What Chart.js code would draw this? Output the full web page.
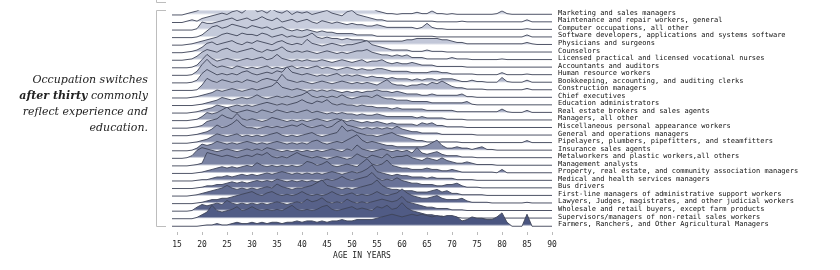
<!DOCTYPE html>
<html lang="en">

<head>
  <meta charset="UTF-8" />
  <title>Occupation switches by age</title>
  <script src="https://cdn.jsdelivr.net/npm/chart.js"></script>
  <style>
    body { margin: 0; background: #fff; }
    #wrap { position: relative; width: 840px; height: 270px; }
    #note {
      position: absolute; left: 0; top: 72px; width: 148px;
      text-align: right; font: italic 11px/16px "DejaVu Serif", serif; color: #222;
    }
  </style>
</head>

<body>
  <div id="wrap">
    <canvas id="ridges" width="840" height="270"></canvas>
    <div id="note">Occupation switches <b>after thirty</b> commonly reflect experience and education.</div>
  </div>

  <script>
    // occupations, top to bottom
    const occupations = [
      "Marketing and sales managers",
      "Maintenance and repair workers, general",
      "Computer occupations, all other",
      "Software developers, applications and systems software",
      "Physicians and surgeons",
      "Counselors",
      "Licensed practical and licensed vocational nurses",
      "Accountants and auditors",
      "Human resource workers",
      "Bookkeeping, accounting, and auditing clerks",
      "Construction managers",
      "Chief executives",
      "Education administrators",
      "Real estate brokers and sales agents",
      "Managers, all other",
      "Miscellaneous personal appearance workers",
      "General and operations managers",
      "Pipelayers, plumbers, pipefitters, and steamfitters",
      "Insurance sales agents",
      "Metalworkers and plastic workers,all others",
      "Management analysts",
      "Property, real estate, and community association managers",
      "Medical and health services managers",
      "Bus drivers",
      "First-line managers of administrative support workers",
      "Lawyers, Judges, magistrates, and other judicial workers",
      "Wholesale and retail buyers, except farm products",
      "Supervisors/managers of non-retail sales workers",
      "Farmers, Ranchers, and Other Agricultural Managers"
    ];

    // ages 14..90
    const ages = [14, 15, 16, 17, 18, 19, 20, 21, 22, 23, 24, 25, 26, 27, 28, 29, 30, 31, 32, 33, 34, 35, 36, 37, 38, 39,
      40, 41, 42, 43, 44, 45, 46, 47, 48, 49, 50, 51, 52, 53, 54, 55, 56, 57, 58, 59, 60, 61, 62, 63, 64, 65, 66, 67, 68, 69,
      70, 71, 72, 73, 74, 75, 76, 77, 78, 79, 80, 81, 82, 83, 84, 85, 86, 87, 88, 89, 90];
    const tickAges = [15, 20, 25, 30, 35, 40, 45, 50, 55, 60, 65, 70, 75, 80, 85, 90];

    // switch density per age (rows ordered as above)
    const marketing = [0,0,0,1,2,3, 5,8,9,11,12,14,12,13,15,13, 16,14,12,17,14,13,15,12,11,13, 12,14,11,12,10,11,9,12,10,9, 11,13,9,7,5,3,2,1,1,0.5, 1,1,1,2,1,1,3,1,1,0.5, 1,0.5,0.5,0.5,0.5,0.5,0.5,0.5,0.5,1, 3,1,0.5,0.5,0.5,0.5,0.5,0.5,0.5,0.5,0.5];
    const maintenance = [0,0,0,1,2,1, 3,4,5,6,7,6,8,9,7,10, 13,8,9,7,10,8,7,9,6,8, 7,8,6,7,8,9,7,6,5,8, 9,6,5,4,3,2,2,1,1,1, 1,1,1,1,1,1,1,0.5,0.5,0.5, 0.5,0.5,1,0.5,0.5,0.5,0.5,0.5,0.5,0.5, 0.5,0.5,0.5,0.5,0.5,2,0.5,0.5,0.5,0.5,0.5];
    const computerOther = [0,0,0,0,0,1, 6,5,5,6,7,8,9,7,8,9, 7,8,10,8,7,9,6,7,8,6, 7,8,6,5,7,6,5,6,5,4, 5,4,4,3,3,4,3,2,2,2, 2,2,2,1,2,5,2,1,1,0.5, 0.5,0.5,0.5,0.5,0.5,0.5,0.5,0.5,0.5,0.5, 0.5,0.5,0.5,0.5,0.5,1,0.5,0.5,0.5,0.5,0.5];
    const softwareDev = [0,0,0,0,0,0.5, 2,5,8,9,7,8,10,9,8,7, 9,8,7,8,6,7,8,6,5,6, 5,6,5,4,5,4,4,3,3,3, 3,2,2,2,2,1,1,1,1,1, 1,1,1,1,1,1,1,0.5,0.5,0.5, 0.5,0.5,0.5,0.5,0.5,0.5,0.5,0.5,0.5,0.5, 0.5,0.5,0.5,0.5,0.5,2,0.5,0.5,0.5,0.5,0.5];
    const physicians = [0,0,0,0.5,1,2, 3,4,5,6,8,9,8,7,9,8, 8,7,9,8,6,7,8,6,7,6, 6,7,9,6,5,6,5,5,4,5, 4,4,4,3,3,3,3,3,3,3, 3,4,4,5,5,5,5,5,4,4, 3,2,2,1,1,1,1,1,1,1, 1,1,1,1,1,2,1,0.5,0.5,0.5,0.5];
    const counselors = [0,0,0,0.5,1,2, 4,7,8,6,7,8,9,7,6,8, 7,9,8,7,6,8,9,7,6,7, 6,10,7,6,5,6,7,6,5,6, 6,7,8,9,6,5,4,3,2,2, 2,2,1,1,1,2,1,1,1,0.5, 0.5,0.5,0.5,0.5,0.5,0.5,0.5,0.5,0.5,0.5, 0.5,0.5,0.5,0.5,0.5,0.5,0.5,0.5,0.5,0.5,0.5];
    const nurses = [0,0,0,0.5,1,3, 6,8,7,6,8,9,7,6,7,8, 9,7,6,8,7,8,10,7,6,7, 6,7,6,5,6,7,6,5,6,5, 6,7,7,8,6,5,4,4,3,4, 3,4,2,2,2,1,1,1,1,1, 2,1,1,1,0.5,0.5,0.5,0.5,0.5,0.5, 1,0.5,0.5,0.5,0.5,0.5,0.5,0.5,0.5,0.5,0.5];
    const accountants = [0,0,0,0,0.5,2, 6,10,7,5,6,7,6,5,6,7, 6,7,8,6,7,10,7,6,5,6, 5,6,5,5,6,5,4,5,6,5, 4,5,6,4,5,5,6,4,3,4, 3,3,4,3,2,2,2,1,1,1, 1,1,1,0.5,0.5,0.5,0.5,0.5,0.5,0.5, 0.5,0.5,0.5,0.5,0.5,0.5,0.5,0.5,0.5,0.5,0.5];
    const hrWorkers = [0,0,0,0,0.5,3, 8,12,8,6,7,6,5,7,6,5, 6,5,6,7,5,6,5,6,7,5, 6,5,6,7,5,6,5,4,5,6, 5,4,5,4,4,5,5,4,3,3, 3,3,2,2,2,2,3,3,2,2, 1,1,1,1,1,0.5,0.5,0.5,0.5,0.5, 2,0.5,0.5,0.5,0.5,1,0.5,0.5,0.5,0.5,0.5];
    const bookkeeping = [0,0,0,0,0.5,2, 7,10,8,6,7,6,7,6,8,9, 7,6,7,8,7,9,8,12,8,7, 6,7,6,5,6,5,6,7,5,6, 5,6,5,4,5,4,4,3,4,3, 3,3,2,3,2,3,3,2,3,3, 3,2,1,1,2,1,1,0.5,0.5,0.5, 4,1,0.5,0.5,0.5,2,0.5,0.5,0.5,0.5,0.5];
    const construction = [0,0,0,0,0,0.5, 4,9,7,6,8,7,6,7,6,8, 7,6,8,9,8,7,12,8,7,6, 7,6,5,6,7,6,5,6,7,6, 5,6,5,6,5,4,6,8,5,4, 4,3,4,4,5,4,6,5,7,5, 3,2,2,1,1,1,1,0.5,0.5,0.5, 0.5,0.5,0.5,0.5,0.5,1.5,0.5,0.5,0.5,0.5,0.5];
    const chiefExec = [0,0,0,0,0.5,1, 2,3,4,6,5,6,7,6,5,6, 7,6,7,8,9,12,8,7,6,7, 6,5,6,5,6,5,6,5,4,5, 4,5,4,5,5,6,5,5,4,5, 4,3,3,3,2,2,3,2,2,2, 2,2,3,1,1,0.5,0.5,0.5,0.5,0.5, 0.5,0.5,0.5,0.5,0.5,0.5,0.5,0.5,0.5,0.5,0.5];
    const eduAdmin = [0,0,0,0,0,0.5, 1,2,3,4,6,5,4,5,6,5, 6,8,6,5,6,7,6,7,6,7, 8,10,7,6,7,6,7,6,8,6, 5,6,7,7,6,8,6,5,5,4, 4,4,3,3,3,3,2,2,2,2, 2,2,2,3,1,0.5,0.5,0.5,0.5,0.5, 0.5,0.5,0.5,0.5,0.5,0.5,0.5,0.5,0.5,0.5,0.5];
    const realEstate = [0,0,0,0,0.5,1, 2,3,4,6,5,4,5,6,5,6, 5,6,7,8,7,6,7,6,7,8, 10,8,7,9,8,10,7,6,7,6, 6,5,6,5,5,4,4,4,3,4, 3,3,3,3,3,2,2,2,2,2, 2,1,1,1,1,1,1,1,1,1, 3,1,0.5,0.5,0.5,2,0.5,0.5,0.5,0.5,0.5];
    const managersOther = [0,0,0,0,0.5,1, 3,6,5,6,8,10,7,6,7,8, 7,6,8,7,6,8,7,6,7,6, 7,8,6,7,6,5,6,5,6,5, 5,4,5,4,4,5,4,3,3,3, 3,3,3,2,3,2,2,2,2,1, 1,1,1,0.5,0.5,0.5,0.5,0.5,0.5,0.5, 0.5,0.5,0.5,0.5,0.5,0.5,0.5,0.5,0.5,0.5,0.5];
    const personalAppearance = [0,0,0,0,0.5,1, 2,5,6,7,10,8,7,11,7,6, 7,6,5,6,8,7,6,5,6,5, 6,5,6,7,6,5,6,7,6,5, 6,5,4,5,4,5,4,3,4,3, 3,3,3,2,4,3,4,2,2,1, 1,1,1,0.5,0.5,0.5,0.5,0.5,0.5,0.5, 0.5,0.5,0.5,0.5,0.5,0.5,0.5,0.5,0.5,0.5,0.5];
    const generalOps = [0,0,0,0,0.5,1, 2,3,5,8,6,7,9,12,8,6, 6,5,6,7,6,7,6,7,8,7, 9,7,6,7,8,6,7,10,12,8, 7,6,5,6,5,6,5,6,5,7, 5,4,3,3,2,2,2,2,1,1, 1,1,1,1,1,0.5,0.5,0.5,0.5,0.5, 0.5,0.5,0.5,0.5,0.5,0.5,0.5,0.5,0.5,0.5,0.5];
    const pipelayers = [0,0,0,0,0.5,1, 2,3,5,7,6,5,6,7,5,6, 5,6,5,6,7,8,6,5,6,5, 6,7,8,6,5,6,7,8,13,9, 10,8,7,6,6,5,6,7,8,6, 5,4,3,2,2,1,1,1,1,1, 1,1,0.5,0.5,0.5,0.5,0.5,0.5,0.5,0.5, 0.5,0.5,0.5,0.5,0.5,2,0.5,0.5,0.5,0.5,0.5];
    const insurance = [0,0,0,0,0.5,2, 5,4,5,7,6,5,6,5,6,7, 6,5,6,5,6,7,6,5,6,5, 6,5,7,8,6,5,6,7,6,8, 10,12,8,6,7,6,5,4,4,3, 3,3,3,3,3,4,6,8,4,2, 2,3,2,2,1,2,3,1,1,0.5, 0.5,0.5,0.5,0.5,0.5,0.5,0.5,0.5,0.5,0.5,0.5];
    const metalworkers = [0,0,0,0.5,2,6, 8,7,6,5,6,7,6,5,6,7, 6,7,6,8,7,6,5,6,5,6, 5,6,5,6,5,6,7,6,5,7, 6,10,7,6,5,6,7,6,5,6, 5,6,4,8,4,3,4,5,3,2, 2,2,1,1,1,0.5,0.5,0.5,0.5,0.5, 0.5,0.5,0.5,0.5,0.5,0.5,0.5,0.5,0.5,0.5,0.5];
    const mgmtAnalysts = [0,0,0,0,0.5,1, 2,10,9,8,7,8,7,6,7,8, 7,9,8,10,7,6,7,6,8,10, 8,7,6,7,6,5,6,7,6,5, 6,9,7,6,8,7,6,9,6,7, 7,8,6,5,4,6,5,4,6,4, 3,2,2,3,2,1,1,1,1,0.5, 0.5,0.5,0.5,0.5,0.5,0.5,0.5,0.5,0.5,0.5,0.5];
    const propertyMgrs = [0,0,0,0,0,0.5, 1,2,3,4,5,4,5,4,5,6, 5,8,6,5,6,5,6,5,6,5, 6,9,8,6,7,9,6,5,6,7, 6,5,8,11,7,6,7,10,6,5, 4,4,3,3,3,4,3,3,2,2, 3,2,1,1,1,1,1,1,1,0.5, 3,0.5,0.5,0.5,0.5,0.5,0.5,0.5,0.5,0.5,0.5];
    const medicalMgrs = [0,0,0,0,0,0.5, 1,1,2,3,3,4,3,4,5,4, 5,4,5,6,5,6,7,6,5,6, 5,6,5,6,5,6,7,6,5,6, 7,6,7,9,12,7,6,5,4,5, 4,4,3,3,3,2,3,2,2,2, 2,1,1,1,1,0.5,0.5,0.5,0.5,0.5, 0.5,0.5,0.5,0.5,0.5,0.5,0.5,0.5,0.5,0.5,0.5];
    const busDrivers = [0,0,0,0,0,0.5, 1,2,2,3,3,4,5,4,5,4, 5,6,5,6,5,7,6,5,6,5, 6,5,6,5,6,7,6,7,9,7, 6,7,8,9,12,8,6,7,6,8, 6,5,4,4,3,3,3,2,2,3, 3,4,2,1,1,1,0.5,0.5,0.5,0.5, 0.5,0.5,0.5,0.5,0.5,0.5,0.5,0.5,0.5,0.5,0.5];
    const firstLineAdmin = [0,0,0,0,0.5,1, 2,3,4,5,6,8,6,5,6,5, 6,5,6,7,6,9,7,6,5,6, 6,7,8,10,12,8,7,6,5,6, 5,6,7,8,9,12,8,6,5,5, 4,4,4,3,3,3,4,5,3,4, 2,2,1,1,1,1,1,0.5,0.5,0.5, 0.5,0.5,0.5,0.5,0.5,0.5,0.5,0.5,0.5,0.5,0.5];
    const lawyers = [0,0,0,0,0,0.5, 1,2,3,3,4,4,5,6,7,8, 9,7,6,8,9,7,6,7,6,7, 9,7,6,7,6,7,9,7,6,7, 8,6,7,6,7,9,7,6,7,8, 11,8,6,5,4,4,5,6,4,3, 3,3,4,2,1,1,1,1,0.5,0.5, 0.5,0.5,0.5,0.5,0.5,1,0.5,0.5,0.5,0.5,0.5];
    const buyers = [0,0,0,0,0.5,3, 5,4,5,6,5,8,6,5,6,5, 6,5,6,5,6,7,6,5,6,7, 6,9,7,8,10,7,6,7,6,9, 7,6,7,6,7,8,9,8,7,8, 11,7,6,5,4,3,3,2,2,2, 1,1,1,0.5,0.5,0.5,0.5,0.5,0.5,0.5, 0.5,0.5,0.5,0.5,0.5,0.5,0.5,0.5,0.5,0.5,0.5];
    const salesSupervisors = [0,0,0,0,0,1, 3,5,10,6,5,6,7,9,6,7, 9,7,6,7,6,7,6,8,10,7, 6,7,6,7,9,10,7,6,7,8, 9,7,8,7,6,9,8,10,7,8, 12,8,6,5,4,3,3,2,2,1, 1,1,0.5,0.5,0.5,0.5,0.5,0.5,0.5,0.5, 0.5,0.5,0.5,0.5,0.5,0.5,0.5,0.5,0.5,0.5,0.5];
    const farmers = [0,0,0,0,0,0, 0.5,1,1,2,1,1,2,3,2,2, 3,2,3,2,3,3,2,3,3,4, 3,4,4,3,4,3,4,4,5,4, 4,5,5,5,5,6,7,8,9,8, 7,8,9,8,9,8,7,8,7,8, 8,7,4,5,7,6,6,5,5,7, 10,3,0,0,0,9,0,0,0,0,0];

    const series = [marketing, maintenance, computerOther, softwareDev, physicians, counselors, nurses, accountants,
      hrWorkers, bookkeeping, construction, chiefExec, eduAdmin, realEstate, managersOther, personalAppearance,
      generalOps, pipelayers, insurance, metalworkers, mgmtAnalysts, propertyMgrs, medicalMgrs, busDrivers,
      firstLineAdmin, lawyers, buyers, salesSupervisors, farmers];

    const rowHeight = 1.4 / 7.9;   // ridge height relative to row spacing
    const lightRgb = [202, 207, 222], darkRgb = [74, 85, 128];

    function rowColor(i) {
      const t = Math.pow(i / (series.length - 1), 1.4);
      const c = lightRgb.map((v, k) => Math.round(v + (darkRgb[k] - v) * t));
      return `rgb(${c[0]},${c[1]},${c[2]})`;
    }

    const datasets = series.map((vals, i) => {
      const base = series.length - 1 - i;
      const color = rowColor(i);
      return {
        label: occupations[i],
        data: vals.map((v, k) => ({ x: ages[k], y: base + v * rowHeight })),
        borderColor: '#3e4458',
        borderWidth: 0.9,
        pointRadius: 0,
        tension: 0,
        order: base,
        fill: { value: base },
        backgroundColor: (ctx) => {
          const chart = ctx.chart;
          if (!chart.chartArea) return color;
          const y0 = chart.scales.y.getPixelForValue(base);
          const g = chart.ctx.createLinearGradient(0, y0, 0, y0 - 14);
          g.addColorStop(0, '#ffffff');
          g.addColorStop(0.15, color);
          g.addColorStop(1, color);
          return g;
        }
      };
    });

    // grey brackets left of the ridges
    const brackets = {
      id: 'brackets',
      afterDraw(chart) {
        const c = chart.ctx;
        c.save();
        c.strokeStyle = '#bdbdbd';
        c.lineWidth = 1;
        c.beginPath();
        c.moveTo(156.5, 0); c.lineTo(156.5, 2.5); c.lineTo(166, 2.5);
        c.moveTo(166, 10.5); c.lineTo(156.5, 10.5); c.lineTo(156.5, 226.5); c.lineTo(166, 226.5);
        c.stroke();
        c.restore();
      }
    };

    const mono = { family: '"DejaVu Sans Mono", monospace', size: 8 };
    const monoSmall = { family: '"DejaVu Sans Mono", monospace', size: 7 };

    new Chart(document.getElementById('ridges'), {
      type: 'line',
      data: { datasets },
      plugins: [brackets],
      options: {
        responsive: false,
        animation: false,
        devicePixelRatio: 1,
        layout: { padding: { left: 172, right: 0, top: 0, bottom: 0 } },
        plugins: { legend: { display: false }, tooltip: { enabled: false } },
        scales: {
          x: {
            type: 'linear',
            min: 14,
            max: 90,
            afterBuildTicks: (s) => { s.ticks = tickAges.map(v => ({ value: v })); },
            afterFit: (s) => { s.height = 38; },
            ticks: { font: mono, color: '#222', padding: 5, autoSkip: false, maxRotation: 0 },
            grid: { drawOnChartArea: false, tickLength: 3, color: '#bbb' },
            border: { display: false },
            title: { display: true, text: 'AGE IN YEARS', font: mono, color: '#222', padding: { top: 4, bottom: 9 } }
          },
          y: {
            type: 'linear',
            position: 'right',
            min: -0.76,
            max: 28.63,
            afterBuildTicks: (s) => { s.ticks = occupations.map((n, i) => ({ value: occupations.length - 1 - i })); },
            afterFit: (s) => { s.width = 288; },
            ticks: {
              font: monoSmall, color: '#111', padding: 6, labelOffset: -2, autoSkip: false,
              callback: (v) => occupations[occupations.length - 1 - v]
            },
            grid: { display: false, drawTicks: false, tickLength: 0 },
            border: { display: false }
          }
        }
      }
    });
  </script>
</body>

</html>
